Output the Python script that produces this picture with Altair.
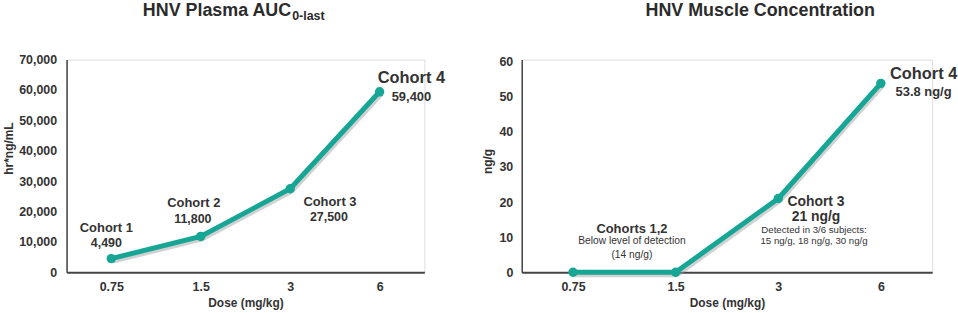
import altair as alt
import pandas as pd

# ---------------- data ----------------
doses = ["0.75", "1.5", "3", "6"]
auc = [4490, 11800, 27500, 59400]
auc_cohort = ["Cohort 1", "Cohort 2", "Cohort 3", "Cohort 4"]
auc_label = ["4,490", "11,800", "27,500", "59,400"]

muscle = [0, 0, 21, 53.8]
muscle_head = ["", "Cohorts 1,2", "Cohort 3", "Cohort 4"]
muscle_value = ["", "", "21 ng/g", "53.8 ng/g"]
muscle_note1 = ["", "Below level of detection", "Detected in 3/6 subjects:", ""]
muscle_note2 = ["", "(14 ng/g)", "15 ng/g, 18 ng/g, 30 ng/g", ""]

auc_ticks = [0, 10000, 20000, 30000, 40000, 50000, 60000, 70000]
muscle_ticks = [0, 10, 20, 30, 40, 50, 60]

title_left = "HNV Plasma AUC"
title_left_sub = "0-last"
title_right = "HNV Muscle Concentration"

# ---------------- styles ----------------
FONT = "Liberation Sans"
TEAL = "#17a695"
TXT = "#333333"

df_auc = pd.DataFrame({"dose": doses, "v": auc, "cohort": auc_cohort, "lab": auc_label})
df_mus = pd.DataFrame({"dose": doses, "v": muscle, "head": muscle_head,
                       "val": muscle_value, "n1": muscle_note1, "n2": muscle_note2})

axis_common = dict(labelFont=FONT, labelFontWeight="bold", labelFontSize=12.5, labelColor=TXT,
                   titleFont=FONT, titleFontWeight="bold", titleFontSize=12, titleColor=TXT,
                   ticks=False, grid=False, domainColor="#444444")


def panel(df, width, height, ydomain, yticks, yfmt, ytitle, ylabpad, ytitlepad, ytitley,
          notes, titles):
    x = alt.X("dose:N", sort=doses, title="Dose (mg/kg)",
              axis=alt.Axis(labelAngle=0, labelPadding=8, titlePadding=5, domainWidth=2,
                            **axis_common))
    y = alt.Y("v:Q", title=ytitle, scale=alt.Scale(domain=ydomain, nice=False, zero=True),
              axis=alt.Axis(values=yticks, format=yfmt, labelPadding=ylabpad,
                            titlePadding=ytitlepad, titleY=ytitley, domainWidth=1.5,
                            **axis_common))
    base = alt.Chart(df).encode(x=x, y=y)
    shadow = base.mark_line(color="#9a9a9a", strokeWidth=5, opacity=0.45,
                            xOffset=1.5, yOffset=2.5)
    line = base.mark_line(color=TEAL, strokeWidth=5)
    pts = base.mark_circle(color=TEAL, size=90, opacity=1)
    layers = [shadow, line, pts]
    for dose, col, dx, dy, size, bold in notes:
        layers.append(
            alt.Chart(df).transform_filter(alt.datum.dose == dose)
            .mark_text(dx=dx, dy=dy, fontSize=size, font=FONT,
                       fontWeight="bold" if bold else "normal", color=TXT, baseline="middle")
            .encode(x=x, y=y, text=f"{col}:N")
        )
    for txt, xp, yp, size, align in titles:
        layers.append(
            alt.Chart(pd.DataFrame({"t": [txt]}))
            .mark_text(fontSize=size, font=FONT, fontWeight="bold", color="#2b2b2b",
                       align=align, baseline="alphabetic")
            .encode(text="t:N", x=alt.value(xp), y=alt.value(yp))
        )
    return alt.layer(*layers).properties(width=width, height=height)


left_notes = [
    ("0.75", "cohort", -5, -31, 13, True),
    ("0.75", "lab", -5, -16, 12.5, True),
    ("1.5", "cohort", -7, -34, 13, True),
    ("1.5", "lab", -8, -18, 12.5, True),
    ("3", "cohort", 40, 13, 13, True),
    ("3", "lab", 39, 28, 12.5, True),
    ("6", "cohort", 32, -14, 16.5, True),
    ("6", "lab", 32, 5, 13, True),
]
right_notes = [
    ("1.5", "head", -44, -44, 13, True),
    ("1.5", "n1", -44, -31, 10.3, False),
    ("1.5", "n2", -44, -17, 10.3, False),
    ("3", "head", 38, 4, 14, True),
    ("3", "val", 38, 19, 14, True),
    ("3", "n1", 36, 32, 9.7, False),
    ("3", "n2", 36, 43, 9.7, False),
    ("6", "head", 43, -9, 16.5, True),
    ("6", "val", 43, 9, 13, True),
]

left = panel(df_auc, 360, 214, [0, 70000], auc_ticks, ",d", "hr*ng/mL", 10, 3, 89,
             left_notes,
             [(title_left, 226, -44, 18, "right"), (title_left_sub, 227, -40, 12.5, "left")])
right = panel(df_mus, 413, 214, [0, 60 * 214 / 212], muscle_ticks, "d", "ng/g", 9, 5, 102,
              right_notes,
              [(title_right, 240, -44, 18, "center")])

chart = (
    alt.hconcat(left, right, spacing=98, bounds="flush")
    .properties(padding={"left": 2, "top": 0, "right": 0, "bottom": 0})
    .configure_view(stroke=None)
    .configure(background="white")
)

chart.save("out.html", embed_options={"renderer": "svg", "actions": False})
